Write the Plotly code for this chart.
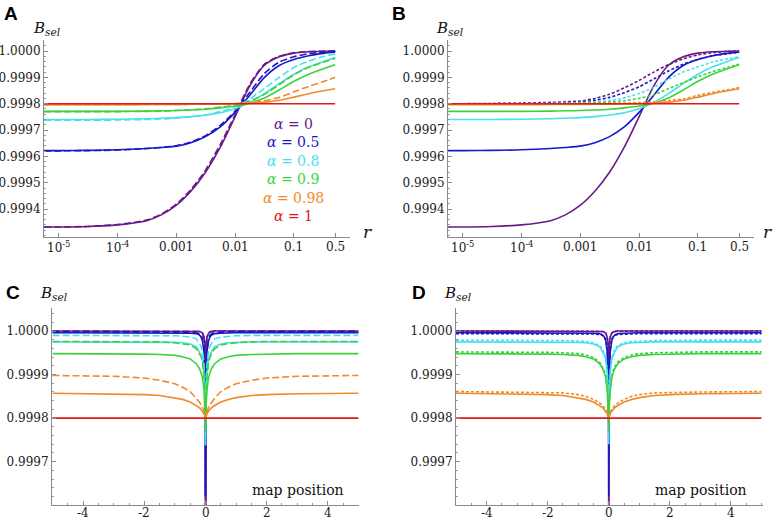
import math
import plotly.graph_objects as go

W, H = 779, 521

# ---------------- data: panels A and B (recombination rate r) ----------------
R = [5.75e-6, 1e-5, 3.16e-5, 1e-4, 3.16e-4, 5.62e-4, 1e-3, 1.78e-3, 3.16e-3, 5.62e-3,
     0.01, 0.0178, 0.0316, 0.0562, 0.1, 0.178, 0.316, 0.5]

A_purple_solid = [0.999332, 0.999332, 0.999334, 0.999340, 0.999356, 0.999378, 0.999414, 0.999468, 0.999540, 0.999635,
                  0.999750, 0.999868, 0.999946, 0.999978, 0.999992, 0.999997, 0.999999, 1.000000]
A_blue_solid = [0.999622, 0.999622, 0.999623, 0.999625, 0.999630, 0.999634, 0.999639, 0.999652, 0.999675, 0.999712,
                0.999767, 0.999832, 0.999900, 0.999945, 0.999968, 0.999982, 0.999991, 0.999996]
A_cyan_solid = [0.999740, 0.999740, 0.999740, 0.999741, 0.999743, 0.999745, 0.999747, 0.999751, 0.999757, 0.999766,
                0.999781, 0.999805, 0.999838, 0.999876, 0.999912, 0.999940, 0.999960, 0.999975]
A_green_solid = [0.999771, 0.999771, 0.999771, 0.999771, 0.999772, 0.999773, 0.999774, 0.999776, 0.999779, 0.999784,
                 0.999791, 0.999802, 0.999822, 0.999852, 0.999885, 0.999912, 0.999933, 0.999948]
A_orange_solid = [0.999796, 0.999796, 0.999796, 0.999796, 0.999797, 0.999797, 0.999797, 0.999798, 0.999798, 0.999799,
                  0.999800, 0.999802, 0.999806, 0.999813, 0.999825, 0.999838, 0.999849, 0.999857]
A_red = [0.9998] * 18

A_purple_dash = [0.999332, 0.999332, 0.999334, 0.999341, 0.999358, 0.999381, 0.999418, 0.999474, 0.999548, 0.999645,
                 0.999758, 0.999874, 0.999950, 0.999980, 0.999993, 0.999998, 0.999999, 1.000000]
A_blue_dash = [0.999621, 0.999621, 0.999622, 0.999624, 0.999630, 0.999634, 0.999640, 0.999654, 0.999679, 0.999718,
               0.999772, 0.999843, 0.999915, 0.999958, 0.999978, 0.999990, 0.999995, 0.999998]
A_cyan_dash = [0.999737, 0.999737, 0.999737, 0.999738, 0.999740, 0.999742, 0.999745, 0.999750, 0.999757, 0.999770,
               0.999788, 0.999818, 0.999858, 0.999900, 0.999938, 0.999962, 0.999979, 0.999989]
A_green_dash = [0.999770, 0.999770, 0.999770, 0.999770, 0.999771, 0.999772, 0.999774, 0.999777, 0.999781, 0.999787,
                0.999795, 0.999810, 0.999836, 0.999872, 0.999910, 0.999938, 0.999958, 0.999972]
A_orange_dash = [0.999796, 0.999796, 0.999796, 0.999796, 0.999797, 0.999797, 0.999797, 0.999798, 0.999798, 0.999799,
                 0.999801, 0.999804, 0.999811, 0.999824, 0.999845, 0.999866, 0.999884, 0.999900]

B_purple_dot = [0.999800, 0.999800, 0.999801, 0.999802, 0.999805, 0.999807, 0.999810, 0.999820, 0.999836, 0.999860,
                0.999888, 0.999920, 0.999948, 0.999970, 0.999985, 0.999994, 0.999998, 1.000000]
B_blue_dot = [0.999800, 0.999800, 0.999800, 0.999801, 0.999803, 0.999804, 0.999806, 0.999813, 0.999824, 0.999842,
              0.999864, 0.999894, 0.999924, 0.999950, 0.999968, 0.999982, 0.999990, 0.999994]
B_cyan_dot = [0.999800, 0.999800, 0.999800, 0.999800, 0.999801, 0.999802, 0.999804, 0.999807, 0.999812, 0.999822,
              0.999839, 0.999862, 0.999893, 0.999920, 0.999940, 0.999958, 0.999970, 0.999978]
B_green_dot = [0.999800, 0.999800, 0.999800, 0.999800, 0.999800, 0.999801, 0.999802, 0.999804, 0.999806, 0.999811,
               0.999820, 0.999834, 0.999857, 0.999880, 0.999902, 0.999922, 0.999938, 0.999950]
B_orange_dot = [0.999800, 0.999800, 0.999800, 0.999800, 0.999800, 0.999800, 0.999800, 0.999800, 0.999801, 0.999802,
                0.999804, 0.999807, 0.999812, 0.999818, 0.999832, 0.999843, 0.999853, 0.999861]

# ---------------- data: panels C and D (map position, one side; curves are symmetric) ----------------
XPOS = [0, 0.003, 0.01, 0.02, 0.05, 0.1, 0.15, 0.2, 0.3, 0.5, 0.75, 1.0, 1.5, 2.0, 3.0, 5.0]

C_purple_solid = [0.999332, 0.999840, 0.999948, 0.999970, 0.999986, 0.999995, 0.999998, 0.999999, 1.0, 1.0, 1.0, 1.0, 1.0, 1.0, 1.0, 1.0]
C_blue_solid = [0.999622, 0.999780, 0.999860, 0.999905, 0.999952, 0.999978, 0.999987, 0.999991, 0.999994, 0.999995,
                0.999996, 0.999996, 0.999996, 0.999996, 0.999996, 0.999996]
C_cyan_solid = [0.999740, 0.999790, 0.999830, 0.999860, 0.999905, 0.999935, 0.999946, 0.999953, 0.999964, 0.999970,
                0.999973, 0.999974, 0.999975, 0.999975, 0.999975, 0.999975]
C_green_solid = [0.999771, 0.999790, 0.999810, 0.999830, 0.999866, 0.999893, 0.999905, 0.999914, 0.999925, 0.999936,
                 0.999941, 0.999944, 0.999946, 0.999947, 0.999948, 0.999948]
C_orange_solid = [0.999796, 0.999799, 0.999802, 0.999805, 0.999810, 0.999816, 0.999820, 0.999824, 0.999829, 0.999837,
                  0.999843, 0.999847, 0.999852, 0.999854, 0.999856, 0.999857]
C_red = [0.9998] * 16

C_purple_dash = [0.999332, 0.999845, 0.999950, 0.999972, 0.999987, 0.999996, 0.999998, 0.999999, 1.0, 1.0, 1.0, 1.0, 1.0, 1.0, 1.0, 1.0]
C_blue_dash = [0.999621, 0.999790, 0.999870, 0.999915, 0.999960, 0.999984, 0.999991, 0.999994, 0.999996, 0.999997,
               0.999998, 0.999998, 0.999998, 0.999998, 0.999998, 0.999998]
C_cyan_dash = [0.999737, 0.999800, 0.999850, 0.999880, 0.999925, 0.999955, 0.999966, 0.999972, 0.999982, 0.999986,
               0.999988, 0.999989, 0.999990, 0.999990, 0.999990, 0.999990]
C_green_dash = [0.999770, 0.999795, 0.999820, 0.999850, 0.999895, 0.999930, 0.999942, 0.999949, 0.999959, 0.999968,
                0.999971, 0.999973, 0.999975, 0.999976, 0.999976, 0.999976]
C_orange_dash = [0.999796, 0.999800, 0.999803, 0.999806, 0.999815, 0.999825, 0.999831, 0.999837, 0.999846, 0.999861,
                 0.999871, 0.999879, 0.999887, 0.999892, 0.999896, 0.999898]

D_purple_dot = [0.999800, 0.999880, 0.999950, 0.999970, 0.999987, 0.999996, 0.999998, 0.999999, 1.0, 1.0, 1.0, 1.0, 1.0, 1.0, 1.0, 1.0]
D_blue_dot = [0.999800, 0.999820, 0.999870, 0.999910, 0.999960, 0.999982, 0.999987, 0.999990, 0.999992, 0.999993,
              0.999994, 0.999994, 0.999994, 0.999994, 0.999994, 0.999994]
D_cyan_dot = [0.999800, 0.999810, 0.999840, 0.999870, 0.999910, 0.999940, 0.999950, 0.999958, 0.999967, 0.999973,
              0.999976, 0.999977, 0.999978, 0.999978, 0.999979, 0.999979]
D_green_dot = [0.999800, 0.999805, 0.999820, 0.999840, 0.999870, 0.999897, 0.999910, 0.999918, 0.999929, 0.999939,
               0.999945, 0.999948, 0.999950, 0.999951, 0.999952, 0.999952]
D_orange_dot = [0.999800, 0.999800, 0.999803, 0.999806, 0.999812, 0.999820, 0.999825, 0.999829, 0.999835, 0.999843,
                0.999850, 0.999854, 0.999858, 0.999859, 0.999860, 0.999861]

ALPHA_LABELS = ["0", "0.5", "0.8", "0.9", "0.98", "1"]
Y_TICKS_AB = [0.9994, 0.9995, 0.9996, 0.9997, 0.9998, 0.9999, 1.0]
Y_TICKS_CD = [0.9997, 0.9998, 0.9999, 1.0]
X_TICKS_AB = [1e-5, 1e-4, 1e-3, 1e-2, 0.1, 0.5]
X_TICKTEXT_AB = ["10<sup>-5</sup>", "10<sup>-4</sup>", "0.001", "0.01", "0.1", "0.5"]
X_TICKS_CD = [-4, -2, 0, 2, 4]

COLORS = ["#6a1a86", "#1818c8", "#48e0f0", "#3ad43a", "#f08a2a", "#e01818"]

SERIF = "DejaVu Serif"
SANS = "Liberation Sans, DejaVu Sans, sans-serif"


def mirror(xs, ys):
    fx = [-v for v in reversed(xs[1:])] + list(xs)
    fy = list(reversed(ys[1:])) + list(ys)
    return fx, fy


fig = go.Figure()


def px_x(p):
    return p / W


def px_y(p):
    return 1 - p / H


def add_line(x, y, color, xa, ya, dash=None, shape="linear", width=1.6):
    fig.add_trace(go.Scatter(x=x, y=y, mode="lines", xaxis=xa, yaxis=ya,
                             line=dict(color=color, width=width, dash=dash, shape=shape, smoothing=0.7),
                             showlegend=False, hoverinfo="skip"))


A_solid = [A_purple_solid, A_blue_solid, A_cyan_solid, A_green_solid, A_orange_solid, A_red]
A_dash = [A_purple_dash, A_blue_dash, A_cyan_dash, A_green_dash, A_orange_dash, None]
B_dot = [B_purple_dot, B_blue_dot, B_cyan_dot, B_green_dot, B_orange_dot, None]
C_solid = [C_purple_solid, C_blue_solid, C_cyan_solid, C_green_solid, C_orange_solid, C_red]
C_dash = [C_purple_dash, C_blue_dash, C_cyan_dash, C_green_dash, C_orange_dash, None]
D_dot = [D_purple_dot, D_blue_dot, D_cyan_dot, D_green_dot, D_orange_dot, None]

for i, col in enumerate(COLORS):
    add_line(R, A_solid[i], col, "x", "y", shape="spline")
    if A_dash[i] is not None:
        add_line(R, A_dash[i], col, "x", "y", dash="7px,3px", shape="spline")
    add_line(R, A_solid[i], col, "x2", "y2", shape="spline")
    if B_dot[i] is not None:
        add_line(R, B_dot[i], col, "x2", "y2", dash="3px,2px", shape="spline")
    cx, cy = mirror(XPOS, C_solid[i])
    add_line(cx, cy, col, "x3", "y3")
    if C_dash[i] is not None:
        dx, dy = mirror(XPOS, C_dash[i])
        add_line(dx, dy, col, "x3", "y3", dash="7px,3px")
    add_line(cx, cy, col, "x4", "y4")
    if D_dot[i] is not None:
        ex, ey = mirror(XPOS, D_dot[i])
        add_line(ex, ey, col, "x4", "y4", dash="3px,2px")

TICKFONT = dict(family=SERIF, size=12, color="#1a1a1a")
axis_common = dict(showline=True, linecolor="#8a8a8a", linewidth=1, ticks="inside", ticklen=4,
                   tickcolor="#8a8a8a", showgrid=False, zeroline=False, tickfont=TICKFONT)

A_X = (44, 350); A_Y = (40, 237)
B_X = (448, 754); B_Y = (40, 237)
C_X = (52, 359); C_Y = (308, 505)
D_X = (456, 763); D_Y = (308, 505)

ytext_ab = ["%.4f" % v for v in Y_TICKS_AB]
ytext_cd = ["%.4f" % v for v in Y_TICKS_CD]
xtext_cd = [str(v) for v in X_TICKS_CD]

minor_y = dict(ticks="inside", ticklen=2, dtick=0.00002, tickcolor="#9a9a9a", showgrid=False)
minor_x_cd = dict(ticks="inside", ticklen=2, dtick=0.5, tickcolor="#9a9a9a", showgrid=False)

fig.update_layout(
    width=W, height=H, margin=dict(l=0, r=0, t=0, b=0),
    paper_bgcolor="white", plot_bgcolor="white", showlegend=False,
    font=dict(family=SERIF),
    xaxis=dict(axis_common, type="log", range=[-5.24, -0.05], domain=[px_x(A_X[0]), px_x(A_X[1])],
               anchor="y", tickvals=X_TICKS_AB, showticklabels=False),
    yaxis=dict(axis_common, range=[0.999294, 1.0000418], domain=[px_y(A_Y[1]), px_y(A_Y[0])],
               anchor="x", tickvals=Y_TICKS_AB, ticktext=ytext_ab, minor=minor_y),
    xaxis2=dict(axis_common, type="log", range=[-5.24, -0.05], domain=[px_x(B_X[0]), px_x(B_X[1])],
                anchor="y2", tickvals=X_TICKS_AB, showticklabels=False),
    yaxis2=dict(axis_common, range=[0.999294, 1.0000418], domain=[px_y(B_Y[1]), px_y(B_Y[0])],
                anchor="x2", tickvals=Y_TICKS_AB, ticktext=ytext_ab, minor=minor_y),
    xaxis3=dict(axis_common, range=[-5.02, 5.02], domain=[px_x(C_X[0]), px_x(C_X[1])],
                anchor="y3", tickvals=X_TICKS_CD, showticklabels=False, minor=minor_x_cd),
    yaxis3=dict(axis_common, range=[0.9996006, 1.0000528], domain=[px_y(C_Y[1]), px_y(C_Y[0])],
                anchor="x3", tickvals=Y_TICKS_CD, ticktext=ytext_cd, minor=minor_y),
    xaxis4=dict(axis_common, range=[-5.0, 5.05], domain=[px_x(D_X[0]), px_x(D_X[1])],
                anchor="y4", tickvals=X_TICKS_CD, showticklabels=False, minor=minor_x_cd),
    yaxis4=dict(axis_common, range=[0.9996006, 1.0000528], domain=[px_y(D_Y[1]), px_y(D_Y[0])],
                anchor="x4", tickvals=Y_TICKS_CD, ticktext=ytext_cd, minor=minor_y),
)

ann = []


def text(x, y, s, size, color="#111", family=SERIF, xanchor="center"):
    ann.append(dict(x=px_x(x), y=px_y(y), xref="paper", yref="paper", text=s, showarrow=False,
                    xanchor=xanchor, yanchor="middle", font=dict(family=family, size=size, color=color)))


# x tick labels placed at the axis' own data positions
for xa, vals, texts, ypix in [("x", X_TICKS_AB, X_TICKTEXT_AB, 247), ("x2", X_TICKS_AB, X_TICKTEXT_AB, 247),
                              ("x3", X_TICKS_CD, xtext_cd, 513), ("x4", X_TICKS_CD, xtext_cd, 513)]:
    for v, t in zip(vals, texts):
        xv = math.log10(v) if xa in ("x", "x2") else v
        ann.append(dict(x=xv, xref=xa, y=px_y(ypix), yref="paper", text=t, showarrow=False,
                        xanchor="center", yanchor="middle", font=TICKFONT))

BSEL = "<i>B</i><sub><i>sel</i></sub>"
for lx, ly, s in [(11, 13, "A"), (399, 13, "B"), (13, 292, "C"), (419, 292, "D")]:
    text(lx, ly, "<b>%s</b>" % s, 19, color="#000", family=SANS)
for bx, by in [(46, 28), (449, 28), (53, 293), (457, 293)]:
    text(bx, by, BSEL, 15)
text(367, 232, "<i>r</i>", 17)
text(767, 232, "<i>r</i>", 17)
text(298, 490, "map position", 14)
text(701, 490, "map position", 14)
for k, (lab, col) in enumerate(zip(ALPHA_LABELS, COLORS)):
    text(293, 124 + 18.4 * k, "<i>α</i> = " + lab, 14, color=col)

fig.update_layout(annotations=ann)
fig.write_html("out.html", config={"displayModeBar": False},
               post_script="document.body.style.margin='0px';")
